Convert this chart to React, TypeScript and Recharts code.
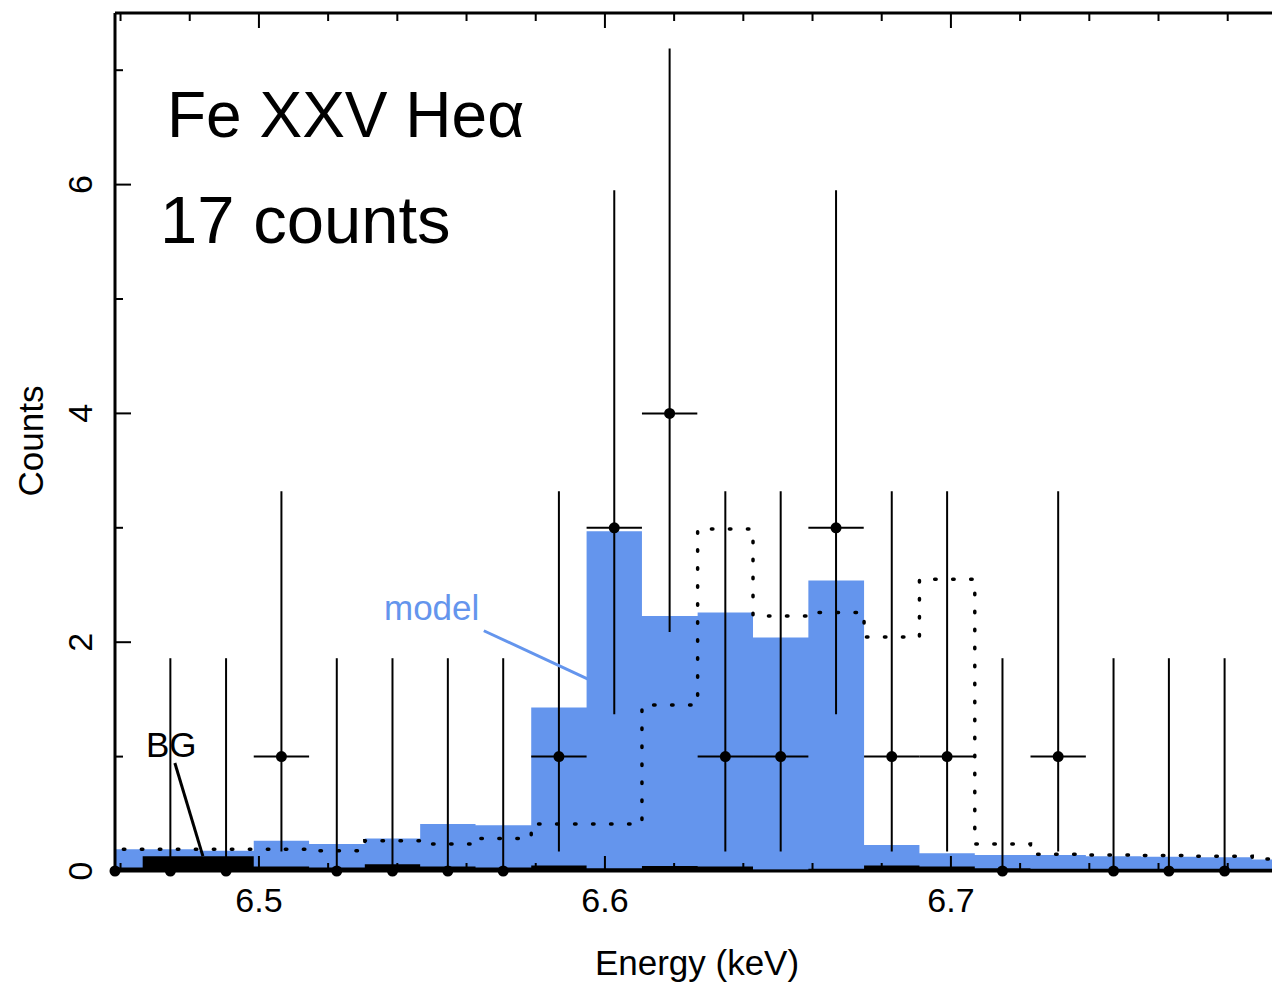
import React from 'react';
import {
  ComposedChart,
  Area,
  Line,
  Scatter,
  ErrorBar,
  XAxis,
  YAxis,
  ReferenceLine,
} from 'recharts';

const FONT = "'Liberation Sans', Arial, Helvetica, sans-serif";
const BLUE = '#6495ED';

// ---- observed spectrum (bin centres in keV) ----
const energy = [
  6.4584, 6.4744, 6.4905, 6.5065, 6.5225, 6.5386, 6.5546, 6.5706, 6.5867, 6.6027, 6.6187,
  6.6348, 6.6508, 6.6668, 6.6829, 6.6989, 6.7149, 6.731, 6.747, 6.763, 6.7791,
];
const counts = [0, 0, 0, 1, 0, 0, 0, 0, 1, 3, 4, 1, 1, 3, 1, 1, 0, 1, 0, 0, 0];
const errLow = [
  0, 0, 0, 0.17, 0, 0, 0, 0, 0.17, 1.37, 2.09, 0.17, 0.17, 1.37, 0.17, 0.17, 0, 0.17, 0, 0, 0,
];
const errHigh = [
  1.86, 1.86, 1.86, 3.32, 1.86, 1.86, 1.86, 1.86, 3.32, 5.95, 7.19, 3.32, 3.32, 5.95, 3.32, 3.32,
  1.86, 3.32, 1.86, 1.86, 1.86,
];
const binHalfWidth = 0.008;

// ---- model histograms (one extra bin at the right edge) ----
const modelEnergy = [...energy, 6.7951];
const modelCounts = [
  0.19, 0.19, 0.178, 0.265, 0.236, 0.285, 0.41, 0.4, 1.43, 2.97, 2.23, 2.26, 2.04, 2.54, 0.227,
  0.155, 0.14, 0.14, 0.13, 0.125, 0.12, 0.1,
];
const shiftedModel = [
  0.19, 0.19, 0.19, 0.19, 0.178, 0.265, 0.235, 0.285, 0.41, 0.41, 1.45, 2.99, 2.23, 2.26, 2.045,
  2.55, 0.235, 0.146, 0.14, 0.135, 0.13, 0.105,
];
const background = [
  0.03, 0.13, 0.13, 0.04, 0.03, 0.06, 0.04, 0.03, 0.047, 0.024, 0.044, 0.04, 0.01, 0.02, 0.047,
  0.04, 0.025, 0.02, 0.02, 0.02, 0.02, 0.02,
];

// ---- axes ----
const xDomain = [6.4584, 6.7928];
const yDomain = [0, 7.5];
const xTicks = [
  6.46, 6.48, 6.5, 6.52, 6.54, 6.56, 6.58, 6.6, 6.62, 6.64, 6.66, 6.68, 6.7, 6.72, 6.74, 6.76,
  6.78,
];
const xMajorTicks = [6.5, 6.6, 6.7];
const yTicks = [0, 1, 2, 3, 4, 5, 6, 7];
const yMajorTicks = [0, 2, 4, 6];

// ---- annotation leader lines (data coordinates) ----
const modelLeader = [
  { x: 6.565, y: 2.1 },
  { x: 6.5951, y: 1.678 },
];
const bgLeader = [
  { x: 6.4757, y: 0.944 },
  { x: 6.4838, y: 0.13 },
];

// tables built from the arrays above
const histData = modelEnergy.map((e, i) => ({
  x: e - binHalfWidth,
  model: modelCounts[i],
  shifted: shiftedModel[i],
  bg: background[i],
}));
{
  const last = modelEnergy.length - 1;
  histData.push({
    x: modelEnergy[last] + binHalfWidth,
    model: modelCounts[last],
    shifted: shiftedModel[last],
    bg: background[last],
  });
}
const points = energy.map((e, i) => ({
  x: e,
  y: counts[i],
  ey: [counts[i] - errLow[i], errHigh[i] - counts[i]],
  // horizontal bin extent, limited to the visible energy range
  ex: [Math.min(binHalfWidth, e - xDomain[0]), Math.min(binHalfWidth, xDomain[1] - e)],
}));

const isIn = (arr: number[], v: number) => arr.some((a) => Math.abs(a - v) < 1e-6);

const makeXTick = (side: 'bottom' | 'top') => (props: any) => {
  const { x, y, payload } = props;
  const v = payload.value as number;
  const major = isIn(xMajorTicks, v);
  const len = major ? 15 : 8;
  const dir = side === 'bottom' ? -1 : 1;
  return (
    <g>
      <line x1={x} x2={x} y1={y} y2={y + dir * len} stroke="#000" strokeWidth={2} />
      {side === 'bottom' && major ? (
        <text x={x} y={y + 41} textAnchor="middle" fontSize={34} fontFamily={FONT} fill="#000">
          {v.toFixed(1)}
        </text>
      ) : null}
    </g>
  );
};

const makeYTick = (side: 'left' | 'right') => (props: any) => {
  const { x, y, payload } = props;
  const v = payload.value as number;
  const major = isIn(yMajorTicks, v);
  const len = major ? 16 : 8;
  const dir = side === 'left' ? 1 : -1;
  const tx = x - 23;
  return (
    <g>
      <line x1={x} x2={x + dir * len} y1={y} y2={y} stroke="#000" strokeWidth={2} />
      {side === 'left' && major ? (
        <text
          x={tx}
          y={y}
          transform={`rotate(-90 ${tx} ${y})`}
          textAnchor="middle"
          fontSize={34}
          fontFamily={FONT}
          fill="#000"
        >
          {String(v)}
        </text>
      ) : null}
    </g>
  );
};

const XLabel = (props: any) => {
  const vb = props.viewBox || { x: 115, y: 871, width: 1157, height: 113 };
  return (
    <text
      x={vb.x + vb.width / 2 + 3.5}
      y={vb.y + 104}
      textAnchor="middle"
      fontSize={35}
      fontFamily={FONT}
      fill="#000"
    >
      Energy (keV)
    </text>
  );
};

const YLabel = (props: any) => {
  const vb = props.viewBox || { x: 0, y: 13, width: 115, height: 858 };
  const tx = vb.x + 43;
  const ty = vb.y + vb.height / 2 - 1;
  return (
    <text
      x={tx}
      y={ty}
      transform={`rotate(-90 ${tx} ${ty})`}
      textAnchor="middle"
      fontSize={35}
      fontFamily={FONT}
      fill="#000"
    >
      Counts
    </text>
  );
};

const axisLineStyle = { stroke: '#000', strokeWidth: 3 };

export default function App() {
  return (
    <div style={{ position: 'relative', width: 1272, height: 984, background: '#fff' }}>
      <style>{`html,body{margin:0;padding:0;overflow:hidden;background:#fff}`}</style>
      <ComposedChart width={1272} height={984} margin={{ top: 0, right: 0, bottom: 0, left: 0 }}>
        <XAxis
          xAxisId="b"
          dataKey="x"
          type="number"
          orientation="bottom"
          domain={xDomain}
          allowDataOverflow
          ticks={xTicks}
          interval={0}
          tickSize={0}
          tickMargin={0}
          height={113}
          axisLine={axisLineStyle}
          tickLine={false}
          tick={makeXTick('bottom')}
          label={<XLabel />}
        />
        <XAxis
          xAxisId="t"
          dataKey="x"
          type="number"
          orientation="top"
          domain={xDomain}
          ticks={xTicks}
          interval={0}
          tickSize={0}
          tickMargin={0}
          height={13}
          axisLine={axisLineStyle}
          tickLine={false}
          tick={makeXTick('top')}
        />
        <YAxis
          yAxisId="l"
          dataKey="y"
          type="number"
          orientation="left"
          domain={yDomain}
          ticks={yTicks}
          interval={0}
          tickSize={0}
          tickMargin={0}
          width={115}
          axisLine={axisLineStyle}
          tickLine={false}
          tick={makeYTick('left')}
          label={<YLabel />}
        />
        <YAxis
          yAxisId="r"
          type="number"
          orientation="right"
          domain={yDomain}
          allowDataOverflow
          ticks={yTicks}
          interval={0}
          tickSize={0}
          tickMargin={0}
          width={0}
          axisLine={false}
          tickLine={false}
          tick={makeYTick('right')}
        />

        <Area
          xAxisId="b"
          yAxisId="l"
          data={histData}
          dataKey="model"
          type="stepAfter"
          fill={BLUE}
          fillOpacity={1}
          stroke="none"
          isAnimationActive={false}
        />
        <Area
          xAxisId="b"
          yAxisId="l"
          data={histData}
          dataKey="bg"
          type="stepAfter"
          fill="#000"
          fillOpacity={1}
          stroke="none"
          isAnimationActive={false}
        />
        <Line
          xAxisId="b"
          yAxisId="l"
          data={histData}
          dataKey="shifted"
          type="stepAfter"
          stroke="#000"
          strokeWidth={3.5}
          strokeDasharray="1.5 16.5"
          strokeLinecap="round"
          dot={false}
          activeDot={false}
          isAnimationActive={false}
        />
        <Scatter
          xAxisId="b"
          yAxisId="l"
          data={points}
          dataKey="y"
          shape={() => <g />}
          isAnimationActive={false}
        >
          <ErrorBar dataKey="ey" direction="y" width={0} stroke="#000" strokeWidth={2} isAnimationActive={false} />
          <ErrorBar dataKey="ex" direction="x" width={0} stroke="#000" strokeWidth={2} isAnimationActive={false} />
        </Scatter>
        <Scatter
          xAxisId="t"
          yAxisId="l"
          data={points}
          dataKey="y"
          shape={(p: any) => <circle cx={p.cx} cy={p.cy} r={5.5} fill="#000" />}
          isAnimationActive={false}
        />
        <ReferenceLine
          xAxisId="b"
          yAxisId="l"
          segment={modelLeader}
          stroke={BLUE}
          strokeWidth={3}
          ifOverflow="visible"
        />
        <ReferenceLine
          xAxisId="b"
          yAxisId="l"
          segment={bgLeader}
          stroke="#000"
          strokeWidth={3}
          ifOverflow="visible"
        />
      </ComposedChart>
      <svg
        width={1272}
        height={984}
        style={{ position: 'absolute', left: 0, top: 0, pointerEvents: 'none' }}
      >
        <text x={167} y={137} fontSize={64} fontFamily={FONT} fill="#000">
          Fe XXV Heα
        </text>
        <text x={160} y={243} fontSize={67} fontFamily={FONT} fill="#000">
          17 counts
        </text>
        <text x={384} y={620} fontSize={35} fontFamily={FONT} fill={BLUE}>
          model
        </text>
        <text x={146} y={757} fontSize={35} fontFamily={FONT} fill="#000">
          BG
        </text>
      </svg>
    </div>
  );
}
